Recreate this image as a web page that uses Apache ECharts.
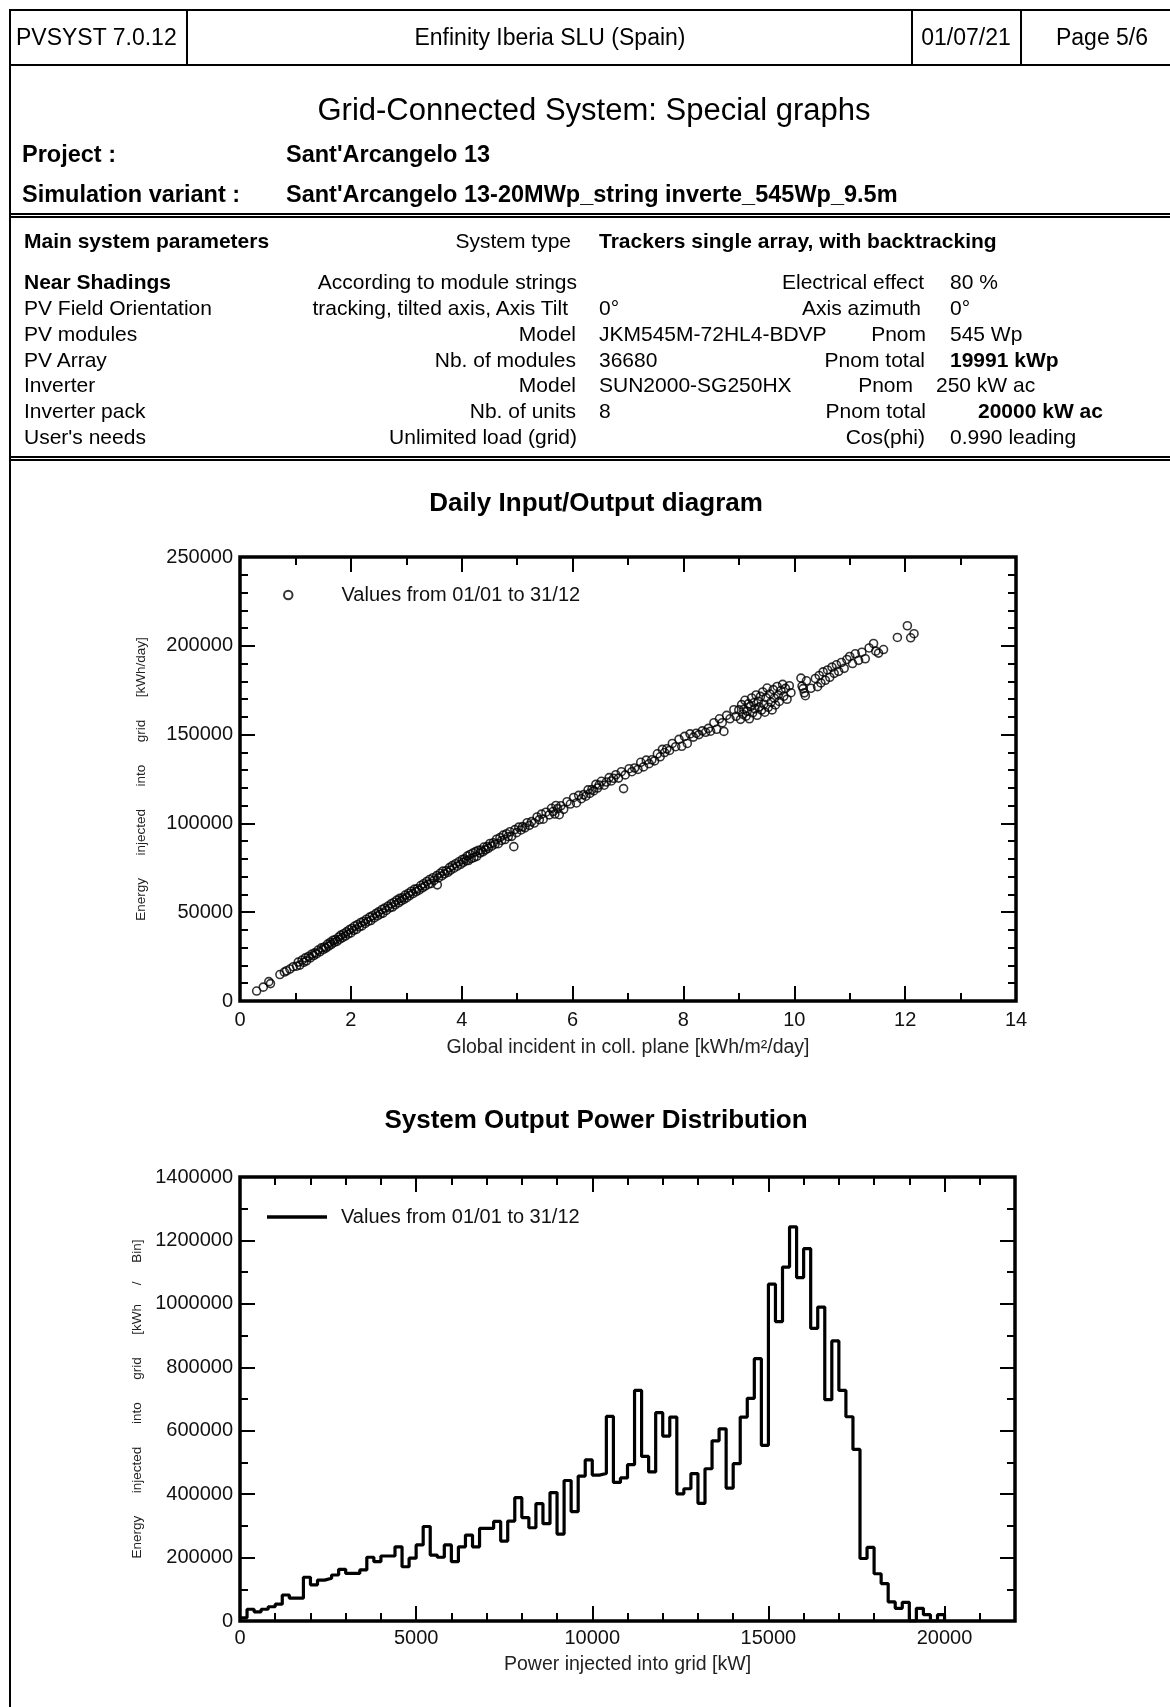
<!DOCTYPE html>
<html>
<head>
<meta charset="utf-8">
<script src="https://cdn.jsdelivr.net/npm/echarts@6/dist/echarts.min.js"></script>
<style>
  html, body { margin: 0; padding: 0; background: #fff; }
  body { width: 1170px; height: 1707px; overflow: hidden; position: relative;
         font-family: "Liberation Sans", Arial, sans-serif; color: #000; }
  #chart { position: absolute; left: 0; top: 0; width: 1170px; height: 1707px; }
  .frame { position: absolute; left: 9px; top: 9px; width: 1180px; height: 1720px;
           border-left: 2px solid #000; border-top: 2px solid #000; }
  .hline { position: absolute; left: 9px; width: 1180px; height: 0; border-top: 2px solid #000; }
  .dline { position: absolute; left: 9px; width: 1180px; height: 0; border-top: 5px double #000; }
  .vline { position: absolute; top: 9px; height: 56px; width: 0; border-left: 2px solid #000; }
  .t { position: absolute; white-space: pre; line-height: 1; transform: translateY(-50%); }
  .r { transform: translate(-100%, -50%); }
  .c { transform: translate(-50%, -50%); }
  .b { font-weight: bold; }
  .hd { font-size: 23px; }
  .pj { font-size: 23.5px; font-weight: bold; }
  .p { font-size: 21px; }
</style>
</head>
<body>
<div id="chart"></div>

<!-- page frame and header -->
<div class="frame"></div>
<div class="hline" style="top:64px"></div>
<div class="vline" style="left:186px"></div>
<div class="vline" style="left:911px"></div>
<div class="vline" style="left:1020px"></div>
<div class="t hd" style="left:16px; top:37px">PVSYST 7.0.12</div>
<div class="t hd c" style="left:550px; top:37px">Enfinity Iberia SLU (Spain)</div>
<div class="t hd c" style="left:966px; top:37px">01/07/21</div>
<div class="t hd c" style="left:1102px; top:37px">Page 5/6</div>

<div class="t c" style="left:594px; top:109px; font-size:31px">Grid-Connected System: Special graphs</div>
<div class="t pj" style="left:22px; top:155px">Project :</div>
<div class="t pj" style="left:286px; top:155px">Sant'Arcangelo 13</div>
<div class="t pj" style="left:22px; top:195px">Simulation variant :</div>
<div class="t pj" style="left:286px; top:195px">Sant'Arcangelo 13-20MWp_string inverte_545Wp_9.5m</div>
<div class="dline" style="top:213px"></div>

<!-- main system parameters -->
<div class="t p b" style="left:24px; top:240px">Main system parameters</div>
<div class="t p r" style="left:571px; top:240px">System type</div>
<div class="t p b" style="left:599px; top:240px">Trackers single array, with backtracking</div>

<div class="t p b" style="left:24px; top:281px">Near Shadings</div>
<div class="t p r" style="left:577px; top:281px">According to module strings</div>
<div class="t p r" style="left:924px; top:281px">Electrical effect</div>
<div class="t p" style="left:950px; top:281px">80 %</div>

<div class="t p" style="left:24px; top:307px">PV Field Orientation</div>
<div class="t p r" style="left:568px; top:307px">tracking, tilted axis, Axis Tilt</div>
<div class="t p" style="left:599px; top:307px">0°</div>
<div class="t p r" style="left:921px; top:307px">Axis azimuth</div>
<div class="t p" style="left:950px; top:307px">0°</div>

<div class="t p" style="left:24px; top:333px">PV modules</div>
<div class="t p r" style="left:576px; top:333px">Model</div>
<div class="t p" style="left:599px; top:333px">JKM545M-72HL4-BDVP</div>
<div class="t p r" style="left:926px; top:333px">Pnom</div>
<div class="t p" style="left:950px; top:333px">545 Wp</div>

<div class="t p" style="left:24px; top:359px">PV Array</div>
<div class="t p r" style="left:576px; top:359px">Nb. of modules</div>
<div class="t p" style="left:599px; top:359px">36680</div>
<div class="t p r" style="left:925px; top:359px">Pnom total</div>
<div class="t p b" style="left:950px; top:359px">19991 kWp</div>

<div class="t p" style="left:24px; top:384px">Inverter</div>
<div class="t p r" style="left:576px; top:384px">Model</div>
<div class="t p" style="left:599px; top:384px">SUN2000-SG250HX</div>
<div class="t p r" style="left:913px; top:384px">Pnom</div>
<div class="t p" style="left:936px; top:384px">250 kW ac</div>

<div class="t p" style="left:24px; top:410px">Inverter pack</div>
<div class="t p r" style="left:576px; top:410px">Nb. of units</div>
<div class="t p" style="left:599px; top:410px">8</div>
<div class="t p r" style="left:926px; top:410px">Pnom total</div>
<div class="t p b" style="left:978px; top:410px">20000 kW ac</div>

<div class="t p" style="left:24px; top:436px">User's needs</div>
<div class="t p r" style="left:577px; top:436px">Unlimited load (grid)</div>
<div class="t p r" style="left:925px; top:436px">Cos(phi)</div>
<div class="t p" style="left:950px; top:436px">0.990 leading</div>
<div class="dline" style="top:456px"></div>

<script>
// daily points: [global incident in coll. plane kWh/m2/day, energy injected kWh/day]
var dailyPoints = [
  [0.30,5600],[0.42,7800],[0.52,10900],[0.55,9800],[0.72,14900],[0.80,16300],[0.84,17000],[0.90,18000],[0.96,19300],
  [1.02,19600],[1.05,21900],[1.08,20200],[1.12,23000],[1.15,21800],[1.18,24300],[1.20,22600],[1.24,25200],[1.27,24300],[1.30,26500],
  [1.33,25600],[1.35,27100],[1.38,26500],[1.41,28700],[1.44,27700],[1.47,29900],[1.50,28900],[1.52,30400],[1.55,29800],[1.58,32000],
  [1.60,30900],[1.63,33100],[1.65,31900],[1.68,34200],[1.70,33000],[1.72,34600],[1.75,33600],[1.78,36000],[1.80,34800],[1.82,37100],
  [1.85,35700],[1.87,37900],[1.90,36600],[1.92,38900],[1.95,37700],[1.97,40100],[2.00,38300],
  [2.02,41000],[2.05,39800],[2.07,42200],[2.10,40300],[2.12,43000],[2.15,41700],[2.18,44200],[2.20,42300],[2.23,44900],[2.26,43700],
  [2.28,46000],[2.31,44800],[2.34,47200],[2.36,45300],[2.39,48000],[2.42,46800],[2.45,49200],[2.48,47900],[2.50,50200],[2.53,48900],
  [2.56,51500],[2.58,49500],[2.61,52300],[2.64,51000],[2.67,53400],[2.70,52400],[2.73,54800],[2.75,52900],[2.78,55600],[2.80,54200],
  [2.83,56800],[2.86,55300],[2.88,57800],[2.91,56400],[2.93,58100],[2.96,57300],[2.98,59600],
  [3.01,58200],[3.04,60700],[3.06,59400],[3.09,61800],[3.12,60500],[3.15,63000],[3.18,61600],[3.20,63200],[3.23,62400],[3.26,65000],
  [3.29,63700],[3.31,66000],[3.34,64700],[3.37,67300],[3.40,65800],[3.42,68400],[3.45,66200],[3.48,69400],[3.50,67900],[3.56,65400],
  [3.55,70600],[3.58,69300],[3.61,71900],[3.64,70400],[3.66,73100],[3.69,71600],[3.72,73300],[3.75,72500],[3.78,75100],[3.80,73700],
  [3.83,76200],[3.86,74800],[3.89,77300],[3.92,75900],[3.95,78400],[3.98,77000],
  [4.01,79700],[4.03,78100],[4.05,80000],[4.08,79000],[4.10,81600],[4.12,79100],[4.15,82500],[4.17,80200],[4.20,83300],[4.22,80800],
  [4.25,84100],[4.27,81500],[4.30,84800],[4.33,83300],[4.35,85000],[4.38,84000],[4.40,86700],[4.43,85100],[4.46,87000],[4.48,86000],
  [4.51,88700],[4.54,87200],[4.57,89100],[4.60,88300],[4.63,91100],[4.66,88600],[4.69,92000],[4.72,90400],[4.75,93400],[4.78,90900],
  [4.81,94200],[4.84,92600],[4.87,95300],[4.90,92700],[4.94,86900],[4.96,96500],[4.99,94800],
  [5.03,97900],[5.07,96300],[5.10,98200],[5.14,97500],[5.18,100400],[5.22,98900],[5.26,101000],[5.31,100200],[5.36,103600],[5.40,102100],
  [5.44,105200],[5.47,102400],[5.52,106300],[5.58,104800],[5.62,108500],[5.65,106700],[5.68,105300],[5.70,110100],[5.73,108300],[5.76,104900],
  [5.79,109900],[5.84,107900],[5.90,112200],[5.96,110900],
  [6.02,114600],[6.07,111500],[6.11,115800],[6.16,113900],[6.20,116200],[6.24,115300],[6.28,118900],[6.31,116900],[6.35,119100],[6.38,118300],
  [6.42,122000],[6.45,119900],[6.48,121600],[6.52,123700],[6.57,121500],[6.61,123300],[6.66,125800],[6.70,123900],[6.74,125400],[6.78,127400],
  [6.83,125500],[6.88,129100],[6.92,119600],[6.95,127300],
  [7.02,130800],[7.07,129100],[7.12,131200],[7.18,130400],[7.23,134400],[7.28,131800],[7.33,135600],[7.38,133600],[7.43,135800],[7.48,135200],
  [7.53,139200],[7.58,137500],[7.62,141700],[7.66,139900],[7.70,142000],[7.75,141100],[7.80,145000],[7.86,143200],[7.92,147300],[7.97,143400],
  [8.02,149000],[8.07,145000],[8.12,150400],[8.18,148600],[8.23,150800],[8.28,150000],[8.34,152100],[8.40,151300],[8.45,153500],[8.49,151900],
  [8.55,156700],[8.60,153000],[8.65,158900],[8.70,156700],[8.73,151800],[8.78,160800],[8.84,158900],[8.91,164000],[8.95,160300],
  [9.00,163900],[9.03,158600],[9.05,166900],[9.07,161500],[9.09,164200],[9.11,169300],[9.13,160400],[9.15,163100],[9.17,167300],[9.19,158900],
  [9.21,165800],[9.23,170600],[9.25,162300],[9.27,167900],[9.29,164500],[9.31,172300],[9.33,160900],[9.35,168800],[9.37,165600],[9.39,171500],
  [9.41,163800],[9.43,174000],[9.45,167100],[9.47,162600],[9.49,170800],[9.51,176200],[9.53,165400],[9.56,172900],[9.58,168300],[9.60,163900],
  [9.62,175300],[9.64,170500],[9.66,166700],[9.69,177100],[9.71,172200],[9.73,168700],[9.76,174800],[9.79,178300],[9.81,171600],[9.84,176000],
  [9.87,169900],[9.91,177500],[9.94,173600],
  [10.12,181800],[10.14,177300],[10.16,175900],[10.18,173500],[10.20,171900],[10.22,180300],[10.30,176100],[10.38,181600],[10.42,177000],
  [10.45,183300],[10.48,179100],[10.52,185300],[10.56,180600],[10.60,186400],[10.64,182300],[10.68,188000],[10.72,184500],[10.76,189300],
  [10.80,185600],[10.85,190600],[10.90,187300],[10.95,192300],
  [11.00,194000],[11.05,190000],[11.10,195500],[11.16,191800],[11.22,196400],[11.28,192700],[11.35,198800],[11.43,201300],[11.47,197000],
  [11.52,195900],[11.61,197900],[11.86,204700],[12.04,211300],[12.10,204500],[12.16,206800]
];

// output power distribution: energy per 200 kW bin, bins starting at 0 kW
var binWidth = 200;
var binEnergy = [
  10000, 37000, 29000, 37000, 45000, 53000, 82000, 72000, 72000, 138000,
  114000, 129000, 135000, 145000, 163000, 150000, 150000, 161000, 201000, 187000,
  205000, 205000, 234000, 171000, 198000, 240000, 298000, 208000, 201000, 240000,
  187000, 234000, 271000, 234000, 292000, 292000, 314000, 252000, 315000, 389000,
  326000, 294000, 370000, 307000, 405000, 274000, 443000, 345000, 457000, 508000,
  460000, 465000, 645000, 437000, 451000, 493000, 727000, 519000, 470000, 657000,
  583000, 643000, 401000, 417000, 465000, 371000, 480000, 568000, 606000, 419000,
  496000, 643000, 702000, 827000, 554000, 1062000, 944000, 1116000, 1243000, 1083000,
  1174000, 923000, 990000, 698000, 883000, 727000, 644000, 541000, 197000, 232000,
  149000, 118000, 60000, 40000, 59000, 0, 40000, 20000, 0, 20000
];

var legendText = 'Values from 01/01 to 31/12';

var histData = binEnergy.map(function (e, i) { return [i * binWidth, e]; });
histData.push([binEnergy.length * binWidth, 0]);

var FONT = '"Liberation Sans", Arial, sans-serif';

function tickAxis(cfg) {
  return {
    type: 'value',
    gridIndex: cfg.grid,
    position: cfg.position,
    min: cfg.min, max: cfg.max, interval: cfg.interval,
    name: cfg.name || '',
    nameLocation: 'middle',
    nameGap: cfg.nameGap || 0,
    nameRotate: cfg.nameRotate,
    nameTextStyle: { fontFamily: FONT, fontSize: cfg.nameSize || 19.5, color: '#222' },
    axisLine: { show: false, onZero: false },
    axisTick: { show: true, inside: true, length: cfg.tickLen || 15,
                lineStyle: { color: '#000', width: 2 } },
    minorTick: { show: !!cfg.minor, splitNumber: cfg.minor || 2, length: 8,
                 lineStyle: { color: '#000', width: 2 } },
    splitLine: { show: false },
    minorSplitLine: { show: false },
    axisLabel: { show: !!cfg.labels, color: '#111', fontFamily: FONT, fontSize: 20,
                 margin: cfg.margin || 8, showMaxLabel: cfg.showMax !== false,
                 formatter: function (v) { return String(v); } }
  };
}

var chart = echarts.init(document.getElementById('chart'), null, { renderer: 'canvas' });
chart.setOption({
  animation: false,
  backgroundColor: 'transparent',
  textStyle: { fontFamily: FONT },
  title: [
    { text: 'Daily Input/Output diagram', left: 591, top: 499, textAlign: 'center', textVerticalAlign: 'middle',
      textStyle: { fontSize: 26, fontWeight: 'bold', color: '#000', fontFamily: FONT } },
    { text: 'System Output Power Distribution', left: 591, top: 1116, textAlign: 'center', textVerticalAlign: 'middle',
      textStyle: { fontSize: 26, fontWeight: 'bold', color: '#000', fontFamily: FONT } }
  ],
  legend: [
    { data: ['daily'], left: 283, top: 585, padding: 0, icon: 'circle', itemWidth: 8.5, itemHeight: 8.5,
      formatter: function () { return legendText; },
      textStyle: { fontSize: 20, color: '#111', fontFamily: FONT, padding: [0, 0, 0, 44] } },
    { data: ['dist'], left: 267, top: 1207, padding: 0, icon: 'rect', itemWidth: 60, itemHeight: 3.5,
      itemStyle: { color: '#000' },
      formatter: function () { return legendText; },
      textStyle: { fontSize: 20, color: '#111', fontFamily: FONT, padding: [0, 0, 0, 9] } }
  ],
  grid: [
    { left: 240, top: 557, width: 776, height: 444, show: true, borderColor: '#000', borderWidth: 3.5,
      backgroundColor: 'transparent' },
    { left: 240, top: 1177, width: 775, height: 444, show: true, borderColor: '#000', borderWidth: 3.5,
      backgroundColor: 'transparent' }
  ],
  xAxis: [
    tickAxis({ grid: 0, position: 'bottom', min: 0, max: 14, interval: 2, minor: 2, labels: true, margin: 9,
               name: 'Global incident in coll. plane [kWh/m²/day]', nameGap: 37 }),
    tickAxis({ grid: 0, position: 'top', min: 0, max: 14, interval: 2, minor: 2 }),
    tickAxis({ grid: 1, position: 'bottom', min: 0, max: 22000, interval: 5000, labels: true, margin: 7,
               showMax: false, name: 'Power injected into grid [kW]', nameGap: 34 }),
    tickAxis({ grid: 1, position: 'bottom', min: 0, max: 22000, interval: 1000, tickLen: 8 }),
    tickAxis({ grid: 1, position: 'top', min: 0, max: 22000, interval: 5000 }),
    tickAxis({ grid: 1, position: 'top', min: 0, max: 22000, interval: 1000, tickLen: 8 })
  ],
  yAxis: [
    tickAxis({ grid: 0, position: 'left', min: 0, max: 250000, interval: 50000, minor: 5, labels: true, margin: 7,
               name: 'Energy      injected      into      grid      [kWh/day]', nameGap: 92, nameRotate: 90, nameSize: 13.5 }),
    tickAxis({ grid: 0, position: 'right', min: 0, max: 250000, interval: 50000, minor: 5 }),
    tickAxis({ grid: 1, position: 'left', min: 0, max: 1400000, interval: 200000, minor: 2, labels: true, margin: 7,
               name: 'Energy      injected      into      grid      [kWh     /     Bin]', nameGap: 92, nameRotate: 90, nameSize: 13.5 }),
    tickAxis({ grid: 1, position: 'right', min: 0, max: 1400000, interval: 200000, minor: 2 })
  ],
  series: [
    { name: 'daily', type: 'scatter', xAxisIndex: 0, yAxisIndex: 0, data: dailyPoints,
      symbol: 'circle', symbolSize: 8,
      itemStyle: { color: 'rgba(0,0,0,0)', borderColor: '#000', borderWidth: 1.6 } },
    { name: 'dist', type: 'line', xAxisIndex: 2, yAxisIndex: 2, data: histData, step: 'end',
      symbol: 'none', lineStyle: { color: '#000', width: 3.2 }, itemStyle: { color: '#000' } }
  ]
});
</script>
</body>
</html>
